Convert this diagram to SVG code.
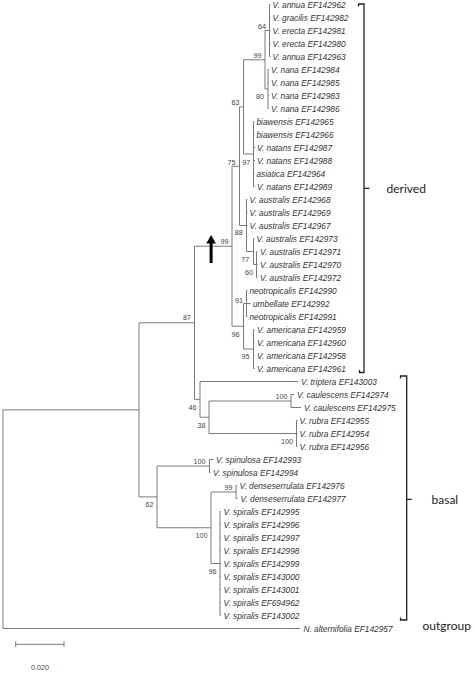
<svg xmlns="http://www.w3.org/2000/svg" width="474" height="675" viewBox="0 0 474 675">
<style>
.br{fill:none;stroke:#7a7a7a;stroke-width:1}
.bk{fill:none;stroke:#222;stroke-width:1.3}
.tx{font-family:"Liberation Sans",Arial,sans-serif;font-style:italic;font-size:8.3px;fill:#333}
.bs{font-family:"Liberation Sans",Arial,sans-serif;font-size:7.2px;fill:#444;text-anchor:end}
.gp{font-family:Lato,"Open Sans",sans-serif;font-size:12px;fill:#222}
</style>
<rect width="474" height="675" fill="#fff"/>
<g id="connectors">
<path class="br" d="M3,409.85V628.5M3,409.85H139M3,628.5H300
M139,322.8V496.9M139,322.8H194.5M139,496.9H157
M194.5,246.2V399.4M194.5,246.2H232M194.5,399.4H200
M200,381.5V417.25M200,381.5H298M200,417.25H209
M209,401V433.5M209,401H291M209,433.5H296.5
M291,394.5V407.5M291,394.5H294M291,407.5H301
M296.5,420.5V446.5M296.5,420.5H297.5M296.5,433.5H297.5M296.5,446.5H297.5
M157,466V527.75M157,466H209.5M157,527.75H211
M209.5,459.5V472.5M209.5,459.5H213M209.5,472.5H210.5
M211,492V563.5M211,492H236M211,563.5H220
M236,485.5V498.5M236,485.5H237M236,498.5H237.5
M220,511.5V615.5M220,511.5H221M220,524.5H221M220,537.5H221M220,550.5H221M220,563.5H221M220,576.5H221M220,589.5H221M220,602.5H221M220,615.5H221
M232,166.2V326.25M232,166.2H239.5M232,326.25H243.5
M239.5,106.9V225.5M239.5,106.9H243.5M239.5,225.5H246.5
M243.5,59.75V154M243.5,59.75H265M243.5,154H253.5
M265,30.5V89M265,30.5H269.5M265,89H268
M269.5,4.5V56.5M269.5,4.5H270.5M269.5,17.5H270.5M269.5,30.5H270.5M269.5,43.5H270.5M269.5,56.5H270.5
M268,69.5V108.5M268,69.5H269M268,82.5H269M268,95.5H269M268,108.5H269
M253.5,121.5V186.5M253.5,121.5H254.5M253.5,134.5H254.5M253.5,147.5H255M253.5,160.5H255M253.5,173.5H254.5M253.5,186.5H255
M246.5,199.5V251.5M246.5,199.5H247.5M246.5,212.5H247.5M246.5,225.5H247.5M246.5,251.5H253.5
M253.5,238.5V264.5M253.5,238.5H254.5M253.5,264.5H256.5
M256.5,251.5V277.5M256.5,251.5H257.5M256.5,264.5H257.5M256.5,277.5H257.5
M243.5,303.5V349M243.5,303.5H246.5M243.5,349H253.5
M246.5,290.5V316.5M246.5,290.5H247.5M246.5,303.5H250.5M246.5,316.5H247.5
M253.5,329.5V368.5M253.5,329.5H254.5M253.5,342.5H254.5M253.5,355.5H254.5M253.5,368.5H254.5"/>
<path class="br" d="M15.7,644.3H64M15.7,641.5V647M64,641.5V647" stroke="#555"/>
</g>
<g id="arrow">
<rect x="209.6" y="243" width="3" height="20" fill="#000"/>
<polygon points="206.3,243.6 211.1,235 215.9,243.6" fill="#000"/>
</g>
<g id="supports">
<text class="bs" x="191" y="320.3">87</text>
<text class="bs" x="153.5" y="507">62</text>
<text class="bs" x="196.5" y="409.5">46</text>
<text class="bs" x="205.5" y="427.5">38</text>
<text class="bs" x="287.5" y="398.8">100</text>
<text class="bs" x="293" y="444">100</text>
<text class="bs" x="205.5" y="464">100</text>
<text class="bs" x="232.5" y="490">99</text>
<text class="bs" x="207.5" y="538.3">100</text>
<text class="bs" x="216.5" y="573.8">96</text>
<text class="bs" x="228.5" y="244">99</text>
<text class="bs" x="235.5" y="164.5">75</text>
<text class="bs" x="239.5" y="104.5">63</text>
<text class="bs" x="261.5" y="57.8">99</text>
<text class="bs" x="266" y="29">64</text>
<text class="bs" x="264" y="99.3">80</text>
<text class="bs" x="250.3" y="164.5">97</text>
<text class="bs" x="242.8" y="235">88</text>
<text class="bs" x="249.3" y="261.5">77</text>
<text class="bs" x="253" y="275">60</text>
<text class="bs" x="243" y="302.5">91</text>
<text class="bs" x="239.5" y="336.8">96</text>
<text class="bs" x="249.5" y="359.2">95</text>
<text class="bs" x="40" y="669.5" style="text-anchor:middle">0.020</text>
</g>
<g id="leaves">
<g id="n0"><text class="tx" x="272.5" y="7.5">V. annua EF142962</text></g>
<g id="n1"><text class="tx" x="272.5" y="20.5">V. gracilis EF142982</text></g>
<g id="n2"><text class="tx" x="272.5" y="33.5">V. erecta EF142981</text></g>
<g id="n3"><text class="tx" x="272.5" y="46.5">V. erecta EF142980</text></g>
<g id="n4"><text class="tx" x="272.5" y="59.5">V. annua EF142963</text></g>
<g id="n5"><text class="tx" x="271" y="72.5">V. nana EF142984</text></g>
<g id="n6"><text class="tx" x="271" y="85.5">V. nana EF142985</text></g>
<g id="n7"><text class="tx" x="271" y="98.5">V. nana EF142983</text></g>
<g id="n8"><text class="tx" x="271" y="111.5">V. nana EF142986</text></g>
<g id="n9"><text class="tx" x="256.5" y="124.5">biawensis EF142965</text></g>
<g id="n10"><text class="tx" x="256.5" y="137.5">biawensis EF142966</text></g>
<g id="n11"><text class="tx" x="257" y="150.5">V. natans EF142987</text></g>
<g id="n12"><text class="tx" x="257" y="163.5">V. natans EF142988</text></g>
<g id="n13"><text class="tx" x="256.5" y="176.5">asiatica EF142964</text></g>
<g id="n14"><text class="tx" x="257" y="189.5">V. natans EF142989</text></g>
<g id="n15"><text class="tx" x="249.5" y="202.5">V. australis EF142968</text></g>
<g id="n16"><text class="tx" x="249.5" y="215.5">V. australis EF142969</text></g>
<g id="n17"><text class="tx" x="249.5" y="228.5">V. australis EF142967</text></g>
<g id="n18"><text class="tx" x="256.5" y="241.5">V. australis EF142973</text></g>
<g id="n19"><text class="tx" x="260" y="254.5">V. australis EF142971</text></g>
<g id="n20"><text class="tx" x="260" y="267.5">V. australis EF142970</text></g>
<g id="n21"><text class="tx" x="260" y="280.5">V. australis EF142972</text></g>
<g id="n22"><text class="tx" x="249.5" y="293.5">neotropicalis EF142990</text></g>
<g id="n23"><text class="tx" x="253" y="306.5">umbellate EF142992</text></g>
<g id="n24"><text class="tx" x="249.5" y="319.5">neotropicalis EF142991</text></g>
<g id="n25"><text class="tx" x="257" y="332.5">V. americana EF142959</text></g>
<g id="n26"><text class="tx" x="257" y="345.5">V. americana EF142960</text></g>
<g id="n27"><text class="tx" x="257" y="358.5">V. americana EF142958</text></g>
<g id="n28"><text class="tx" x="257" y="371.5">V. americana EF142961</text></g>
<g id="n29"><text class="tx" x="301" y="384.5">V. triptera EF143003</text></g>
<g id="n30"><text class="tx" x="297" y="397.5">V. caulescens EF142974</text></g>
<g id="n31"><text class="tx" x="304" y="410.5">V. caulescens EF142975</text></g>
<g id="n32"><text class="tx" x="299.5" y="423.5">V. rubra EF142955</text></g>
<g id="n33"><text class="tx" x="299.5" y="436.5">V. rubra EF142954</text></g>
<g id="n34"><text class="tx" x="299.5" y="449.5">V. rubra EF142956</text></g>
<g id="n35"><text class="tx" x="216" y="462.5">V. spinulosa EF142993</text></g>
<g id="n36"><text class="tx" x="213" y="475.5">V. spinulosa EF142994</text></g>
<g id="n37"><text class="tx" x="239.5" y="488.5">V. denseserrulata EF142976</text></g>
<g id="n38"><text class="tx" x="240.5" y="501.5">V. denseserrulata EF142977</text></g>
<g id="n39"><text class="tx" x="223.5" y="514.5">V. spiralis EF142995</text></g>
<g id="n40"><text class="tx" x="223.5" y="527.5">V. spiralis EF142996</text></g>
<g id="n41"><text class="tx" x="223.5" y="540.5">V. spiralis EF142997</text></g>
<g id="n42"><text class="tx" x="223.5" y="553.5">V. spiralis EF142998</text></g>
<g id="n43"><text class="tx" x="223.5" y="566.5">V. spiralis EF142999</text></g>
<g id="n44"><text class="tx" x="223.5" y="579.5">V. spiralis EF143000</text></g>
<g id="n45"><text class="tx" x="223.5" y="592.5">V. spiralis EF143001</text></g>
<g id="n46"><text class="tx" x="223.5" y="605.5">V. spiralis EF694962</text></g>
<g id="n47"><text class="tx" x="223.5" y="618.5">V. spiralis EF143002</text></g>
<g id="n48"><text class="tx" x="303.5" y="631.5">N. alternifolia EF142957</text></g>
</g>
<g id="derived">
<path class="bk" d="M358.5,6.5V4H364V372.5H359.5V370M364,188.3H369.5"/>
<text class="gp" x="386.5" y="192.6">derived</text>
</g>
<g id="basal">
<path class="bk" d="M400.5,378.5V376H406.7V620H400.5V617.5M406.7,499.3H411.7"/>
<text class="gp" x="431.5" y="503.5">basal</text>
</g>
<g id="outgroup">
<text class="gp" x="422.5" y="629.8">outgroup</text>
</g>
</svg>
